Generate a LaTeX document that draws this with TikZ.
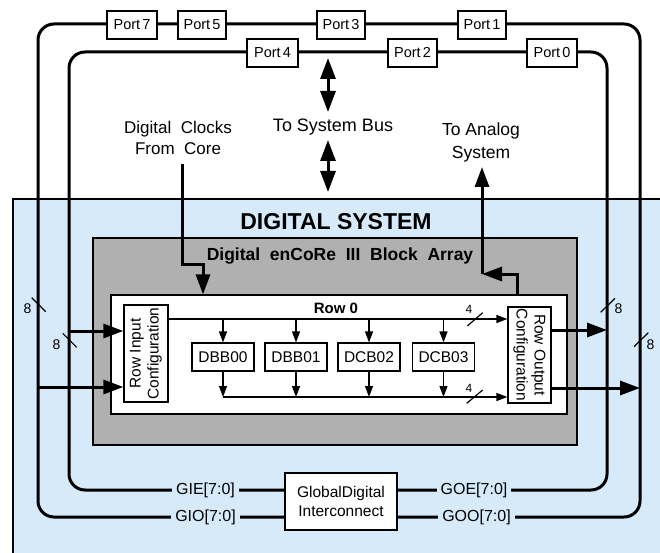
\documentclass[tikz,border=0pt]{standalone}
\usepackage{fontspec}
\setmainfont{Liberation Sans}
\usetikzlibrary{arrows.meta}
\definecolor{sysblue}{RGB}{214,234,250}
\definecolor{arrgrey}{RGB}{176,176,176}
\newcommand\fsz[2]{\fontsize{#1}{#2}\selectfont}
\newcommand\widesp{\spaceskip=2\fontdimen2\font\relax}
\newcommand\narrowsp{\spaceskip=0.5\fontdimen2\font\relax}
\begin{document}
\begin{tikzpicture}[x=1pt,y=-1pt,
  busline/.style={line width=3pt},
  wire/.style={line width=1.2pt},
  bigarrow/.style={line width=3pt,-{Triangle[length=20pt,width=14pt]}},
  smallarrow/.style={line width=1.2pt,-{Triangle[length=11pt,width=8pt]}},
  bidir/.style={line width=3pt,{Triangle[length=21pt,width=15pt]}-{Triangle[length=21pt,width=15pt]}},
  portbox/.style={draw,fill=white,line width=1.2pt,minimum height=28pt,inner sep=0pt,font=\fsz{14.5}{16}\narrowsp},
  blockbox/.style={draw,fill=white,line width=1.2pt,minimum width=62pt,minimum height=28pt,inner sep=0pt,font=\fsz{15.5}{18}},
  buslabel/.style={fill=sysblue,inner xsep=4pt,inner ysep=1pt,font=\fsz{16}{18}},
  widthlabel/.style={inner sep=0pt,font=\fsz{14}{16}},
  nibble/.style={inner sep=0pt,font=\fsz{12}{14}},
]
\useasboundingbox (0,0) rectangle (660,553);
% digital system region
\fill[sysblue] (13,199) rectangle (660,553);
\draw[line width=1.3pt] (13,553) -- (13,199) -- (660,199);
% block array and row
\node[draw,line width=1.2pt,fill=arrgrey,minimum width=484pt,minimum height=207pt,inner sep=0pt] (arr) at (335,341.5) {};
\node[draw,line width=1.2pt,fill=white,minimum width=456pt,minimum height=119pt,inner sep=0pt] (row) at (339,354.5) {};
\node[draw,line width=1.2pt,fill=white,minimum width=44pt,minimum height=97pt,inner sep=0pt] (rin) at (146,353.5) {};
\node[rotate=90,align=center,font=\fsz{15.5}{18}] (rintext) at (rin.center) {Row Input\\Configuration};
\node[draw,line width=1.2pt,fill=white,minimum width=43pt,minimum height=96pt,inner sep=0pt] (rout) at (529.5,355) {};
\node[rotate=-90,align=center,font=\fsz{15.5}{18}] (routtext) at (rout.center) {Row Output\\Configuration};
% global digital interconnect
\node[draw,line width=1.2pt,fill=white,minimum width=112pt,minimum height=57pt,inner sep=0pt,align=center,font=\fsz{15.5}{19}] (gdi) at (341,501.5) {GlobalDigital\\Interconnect};
% loops
\coordinate (oTL) at (38,24); \coordinate (oTR) at (640,24);
\coordinate (oBL) at (38,517); \coordinate (oBR) at (640,517);
\coordinate (iTL) at (69,52); \coordinate (iTR) at (607,52);
\coordinate (iBL) at (69,490); \coordinate (iBR) at (607,490);
\draw[busline,rounded corners=16pt] (gdi.west |- oBL) -- (oBL) -- (oTL) -- (oTR) -- (oBR) -- (gdi.east |- oBR);
\draw[busline,rounded corners=16pt] (gdi.west |- iBL) -- (iBL) -- (iTL) -- (iTR) -- (iBR) -- (gdi.east |- iBR);
% ports
\node[portbox,minimum width=50pt] (p7) at (132,25) {Port 7};
\node[portbox,minimum width=48pt] (p5) at (202,25) {Port 5};
\node[portbox,minimum width=48pt] (p3) at (341,25) {Port 3};
\node[portbox,minimum width=48pt] (p1) at (482,25) {Port 1};
\node[portbox,minimum width=51pt] (p4) at (272.5,53) {Port 4};
\node[portbox,minimum width=49pt] (p2) at (412.5,53) {Port 2};
\node[portbox,minimum width=50pt] (p0) at (552,53) {Port 0};
% bus labels
\node[buslabel] (gie) at (205.5,490) {GIE[7:0]};
\node[buslabel] (gio) at (205.5,517) {GIO[7:0]};
\node[buslabel] (goe) at (474,490) {GOE[7:0]};
\node[buslabel] (goo) at (476.5,517) {GOO[7:0]};
% inputs / outputs of the row
\coordinate (inA) at (69,331); \coordinate (inB) at (38,387);
\coordinate (outA) at (607,330); \coordinate (outB) at (640,388);
\draw[bigarrow] (inA) -- (inA -| rin.west);
\draw[bigarrow] (inB) -- (inB -| rin.west);
\draw[bigarrow] (outA -| rout.east) -- (outA);
\draw[bigarrow] (outB -| rout.east) -- (outB);
% width marks
\draw[wire] (31.7,297.7) -- (45.7,311.7);
\node[widthlabel] (w1) at (27.5,308.5) {8};
\draw[wire] (62.7,333.3) -- (76.7,347.3);
\node[widthlabel] (w2) at (56.5,344.5) {8};
\draw[wire] (600.7,312.3) -- (615,298.3);
\node[widthlabel] (w3) at (618.5,308.5) {8};
\draw[wire] (634,346.7) -- (648.3,332.7);
\node[widthlabel] (w4) at (650.5,344.5) {8};
% blocks
\node[blockbox] (d0) at (223,357) {DBB00};
\node[blockbox] (d1) at (296,357) {DBB01};
\node[blockbox] (d2) at (369,357) {DCB02};
\node[blockbox] (d3) at (443.5,357) {DCB03};
\coordinate (topbus) at (0,319); \coordinate (botbus) at (0,397);
\draw[smallarrow] (rin.east |- topbus) -- (rout.west |- topbus);
\foreach \b in {d0,d1,d2,d3}{
  \draw[smallarrow] (\b.north |- topbus) -- (\b.north);
  \draw[smallarrow] (\b.south) -- (\b.south |- botbus);
}
\draw[smallarrow] (d0.south |- botbus) -- (rout.west |- botbus);
\draw[wire] (467.3,326) -- (482.7,312.7);
\node[nibble] (n1) at (469,309) {4};
\draw[wire] (466.7,403.3) -- (482.7,390);
\node[nibble] (n2) at (469,388) {4};
% titles
\node[font=\bfseries\fsz{23}{26}] (systitle) at (336,222) {DIGITAL SYSTEM};
\node[font=\bfseries\fsz{17.5}{20}\widesp] (arrtitle) at (340,256) {Digital enCoRe III Block Array};
\node[font=\bfseries\fsz{15}{17}] (row0) at (336,308) {Row 0};
% clocks
\node[align=center,font=\fsz{17}{21}\widesp] (clk) at (178,138) {Digital Clocks\\From Core};
\coordinate (ck0) at (182,164); \coordinate (ck1) at (182,264); \coordinate (ck2) at (203,264);
\draw[bigarrow] (ck0) -- (ck1) -- (ck2) -- (ck2 |- row.north);
% analog
\node[align=center,font=\fsz{17.5}{23}] (ana) at (481,142) {To Analog\\System};
\coordinate (an0) at (517,274); \coordinate (an1) at (482,274); \coordinate (anTip) at (482,167);
\draw[bigarrow] (an0 |- row.north) -- (an0) -- (an1);
\draw[bigarrow] (an1) -- (anTip);
% system bus
\node[font=\fsz{18}{20}] (sbus) at (333,127) {To System Bus};
\coordinate (sb0) at (328,58); \coordinate (sb1) at (328,112);
\coordinate (sb2) at (328,140); \coordinate (sb3) at (328,192);
\draw[bidir] (sb0) -- (sb1);
\draw[bidir] (sb2) -- (sb3);
\end{tikzpicture}
\end{document}
